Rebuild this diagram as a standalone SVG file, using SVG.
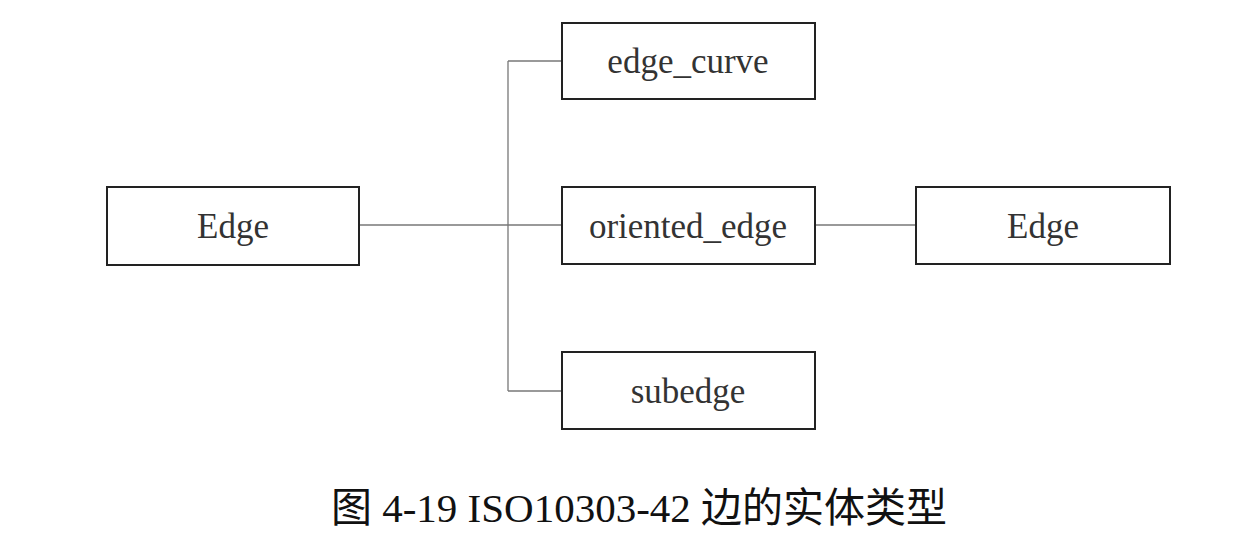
<svg xmlns="http://www.w3.org/2000/svg" width="1260" height="550" viewBox="0 0 1260 550">
<style>
.box{fill:#fff;stroke:#222;stroke-width:2}
.lbl{font-family:"Liberation Serif","Noto Sans CJK SC",serif;font-size:35px;fill:#333;text-anchor:middle}
.conn{stroke:#777;stroke-width:1.3;fill:none}
.cap{font-family:"Liberation Serif","Noto Sans CJK SC",serif;font-size:41px;fill:#111}
</style>
<rect width="1260" height="550" fill="#fff"/>
<g id="connectors">
<path class="conn" d="M359 225H562"/>
<path class="conn" d="M508 61V391"/>
<path class="conn" d="M508 61H562"/>
<path class="conn" d="M508 391H562"/>
<path class="conn" d="M815 225H916"/>
</g>
<g id="edge-left"><rect class="box" x="107" y="187" width="252" height="78"/><text class="lbl" x="233" y="238">Edge</text></g>
<g id="edge-curve"><rect class="box" x="562" y="23" width="253" height="76"/><text class="lbl" x="688" y="73">edge_curve</text></g>
<g id="oriented-edge"><rect class="box" x="562" y="187" width="253" height="77"/><text class="lbl" x="688" y="238">oriented_edge</text></g>
<g id="edge-right"><rect class="box" x="916" y="187" width="254" height="77"/><text class="lbl" x="1043" y="238">Edge</text></g>
<g id="subedge"><rect class="box" x="562" y="352" width="253" height="77"/><text class="lbl" x="688" y="403">subedge</text></g>
<text class="cap" x="639" y="522" text-anchor="middle">图 4-19 ISO10303-42 边的实体类型</text>
</svg>
